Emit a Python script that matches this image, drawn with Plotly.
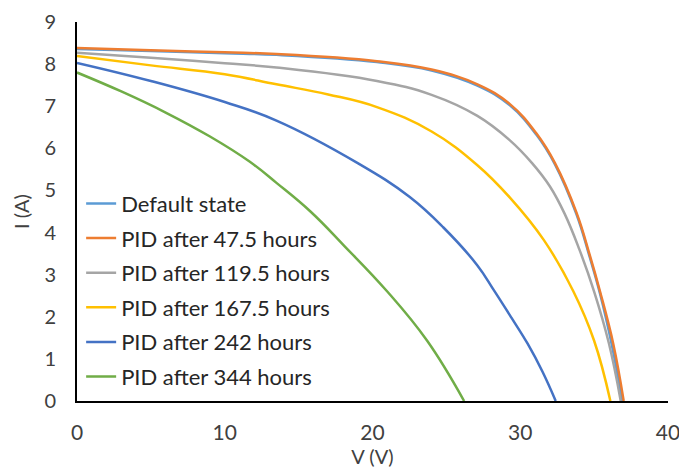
import plotly.graph_objects as go

names = ["Default state", "PID after 47.5 hours", "PID after 119.5 hours",
         "PID after 167.5 hours", "PID after 242 hours", "PID after 344 hours"]
colors = ["#5B9BD5", "#ED7D31", "#A5A5A5", "#FFC000", "#4472C4", "#70AD47"]

v_default = [0, 5, 10, 13.5, 20.3, 24, 27.1, 29.3, 31.1, 32.35, 33.8, 34.7, 35.4, 36.2, 36.9]
i_default = [8.36, 8.31, 8.26, 8.22, 8.05, 7.85, 7.49, 7.02, 6.32, 5.62, 4.44, 3.42, 2.55, 1.33, 0]

v_47 = [0, 5, 10, 13.5, 20.3, 24, 27.1, 29.3, 31.1, 32.35, 33.8, 34.7, 35.4, 36.3, 37.0]
i_47 = [8.38, 8.33, 8.28, 8.24, 8.07, 7.87, 7.52, 7.05, 6.35, 5.65, 4.48, 3.47, 2.60, 1.35, 0]

v_119 = [0, 5, 10, 13.5, 20.3, 24, 27.1, 29.3, 30.8, 32.0, 33.0, 34.0, 35.0, 36.0, 36.8]
i_119 = [8.27, 8.15, 8.02, 7.92, 7.60, 7.27, 6.77, 6.19, 5.65, 5.10, 4.45, 3.60, 2.60, 1.37, 0]

v_167 = [0, 5, 10, 13.5, 17, 20.3, 24, 27.1, 29.3, 31.6, 33.6, 35.0, 36.1]
i_167 = [8.19, 7.97, 7.76, 7.52, 7.28, 6.98, 6.40, 5.60, 4.83, 3.82, 2.60, 1.43, 0]

v_242 = [0, 5, 10, 13.5, 19.0, 22.5, 24.8, 27.1, 28.2, 29.4, 30.5, 31.5, 32.4]
i_242 = [8.03, 7.60, 7.10, 6.66, 5.65, 4.85, 4.12, 3.22, 2.64, 1.98, 1.36, 0.70, 0]

v_344 = [0, 3, 6, 9, 11.7, 13.5, 15.8, 18.1, 21.0, 23.7, 26.2]
i_344 = [7.80, 7.35, 6.85, 6.28, 5.68, 5.18, 4.50, 3.68, 2.60, 1.43, 0]

series = [(v_default, i_default), (v_47, i_47), (v_119, i_119),
          (v_167, i_167), (v_242, i_242), (v_344, i_344)]

x_ticks = [0, 10, 20, 30, 40]
y_ticks = [0, 1, 2, 3, 4, 5, 6, 7, 8, 9]

fig = go.Figure()
for k, ((vx, iy), name, col) in enumerate(zip(series, names, colors)):
    fig.add_trace(go.Scatter(x=vx, y=iy, mode="lines", name=name,
                             line=dict(color=col, width=2.5, shape="spline", smoothing=1.2),
                             legendgroup=f"g{k}"))

font_family = "Lato, 'Open Sans', sans-serif"
fig.update_layout(
    width=687, height=473,
    margin=dict(l=69, r=27, t=14, b=80),
    paper_bgcolor="white", plot_bgcolor="white",
    font=dict(family=font_family, size=20, color="#404040"),
    showlegend=True,
    legend=dict(x=0.007, y=0.576, xanchor="left", yanchor="top",
                bgcolor="rgba(0,0,0,0)", font=dict(size=22, color="#262626"),
                tracegroupgap=3, traceorder="grouped", itemwidth=30),
    xaxis=dict(range=[0, 40], tickvals=x_ticks, showgrid=False, zeroline=False,
               showline=True, linecolor="black", linewidth=2,
               ticks="outside", ticklen=12, tickcolor="rgba(0,0,0,0)",
               automargin=False, ticklabeloverflow="allow",
               title=dict(text="V (V)", standoff=4, font=dict(size=20)),
               tickfont=dict(size=21)),
    yaxis=dict(range=[0, 9], tickvals=y_ticks, showgrid=False, zeroline=False,
               showline=True, linecolor="black", linewidth=2,
               ticks="outside", ticklen=15, tickcolor="rgba(0,0,0,0)",
               automargin=False, ticklabeloverflow="allow",
               title=dict(text="I (A)", standoff=9, font=dict(size=20)),
               tickfont=dict(size=20)),
)

fig.write_html("out.html")
